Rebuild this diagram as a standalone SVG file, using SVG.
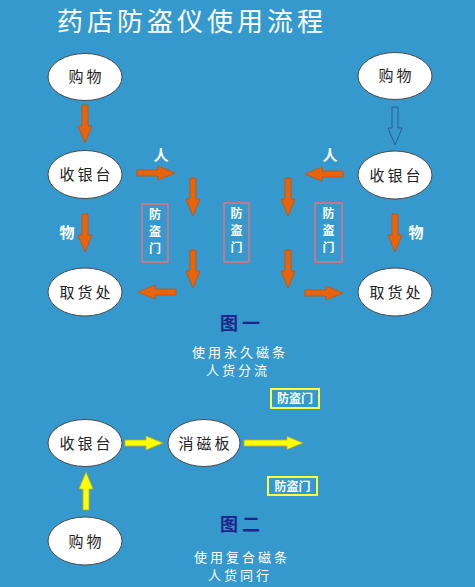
<svg xmlns="http://www.w3.org/2000/svg" xmlns:xlink="http://www.w3.org/1999/xlink" width="475" height="587" viewBox="0 0 475 587">
<style>
.bg{fill:#3599cd}
.node ellipse{fill:#ffffff;stroke:#4a4a4a;stroke-width:1}
.node text{font-family:"Noto Sans CJK SC","Liberation Sans",sans-serif;font-size:15px;fill:#222;text-anchor:middle;letter-spacing:3px}
.org{fill:#e8640c;stroke:#c4520a;stroke-width:0.8}
.hol{fill:none;stroke:#2a5c94;stroke-width:1}
.yel{fill:#ffff00;stroke:#b8b020;stroke-width:0.8}
.lbl{font-family:"Noto Sans CJK SC",sans-serif;font-size:15px;font-weight:bold;fill:#fff;text-anchor:middle}
.door rect{fill:none;stroke:#e8707a;stroke-width:1.5}
.door text{font-family:"Noto Sans CJK SC",sans-serif;font-size:12px;font-weight:bold;fill:#fff;text-anchor:middle}
.ydoor rect{fill:none;stroke:#ffff40;stroke-width:2}
.ydoor text{font-family:"Noto Sans CJK SC",sans-serif;font-size:12px;font-weight:bold;fill:#fff;text-anchor:middle}
.fig{font-family:"Noto Sans CJK SC",sans-serif;font-size:18px;font-weight:bold;fill:#1e2488;text-anchor:middle;letter-spacing:4px}
.cap{font-family:"Noto Sans CJK SC",sans-serif;font-size:13px;fill:#fff;text-anchor:middle;letter-spacing:3px}
.title{font-family:"Noto Sans CJK SC",sans-serif;font-size:26px;fill:#fff;letter-spacing:4px}
</style>
<defs>
<path id="a38" d="M-3,0H3V21H7L0,38L-7,21H-3Z"/>
</defs>
<rect class="bg" x="0" y="0" width="475" height="587"/>
<text class="title" x="57" y="31">药店防盗仪使用流程</text>

<g id="n-buy-l" class="node"><ellipse cx="85" cy="77" rx="37" ry="23.5"/><text x="86.5" y="82">购物</text></g>
<g id="n-cash-l" class="node"><ellipse cx="85" cy="174.5" rx="37" ry="24"/><text x="86.5" y="180">收银台</text></g>
<g id="n-pick-l" class="node"><ellipse cx="85" cy="292" rx="37" ry="24"/><text x="86.5" y="297.5">取货处</text></g>
<g id="n-buy-r" class="node"><ellipse cx="395" cy="76" rx="37" ry="23.5"/><text x="396.5" y="81">购物</text></g>
<g id="n-cash-r" class="node"><ellipse cx="395" cy="175" rx="37" ry="24"/><text x="396.5" y="180.5">收银台</text></g>
<g id="n-pick-r" class="node"><ellipse cx="395" cy="292" rx="37" ry="24"/><text x="396.5" y="297.5">取货处</text></g>
<g id="n-cash-b" class="node"><ellipse cx="85" cy="443" rx="37" ry="23.5"/><text x="86.5" y="448.5">收银台</text></g>
<g id="n-demag" class="node"><ellipse cx="204" cy="443" rx="36" ry="23.5"/><text x="205.5" y="448.5">消磁板</text></g>
<g id="n-buy-b" class="node"><ellipse cx="85" cy="541" rx="37" ry="24"/><text x="86.5" y="546.5">购物</text></g>

<g id="door-l" class="door"><rect x="142" y="204" width="26" height="58"/><text x="155" y="219">防</text><text x="155" y="236">盗</text><text x="155" y="253">门</text></g>
<g id="door-m" class="door"><rect x="224" y="203" width="25" height="59"/><text x="236.5" y="218">防</text><text x="236.5" y="235">盗</text><text x="236.5" y="252">门</text></g>
<g id="door-r" class="door"><rect x="315" y="203" width="27" height="59"/><text x="328.5" y="218">防</text><text x="328.5" y="235">盗</text><text x="328.5" y="252">门</text></g>
<g id="door-y1" class="ydoor"><rect x="271" y="389" width="48" height="19"/><text x="295" y="403">防盗门</text></g>
<g id="door-y2" class="ydoor"><rect x="268" y="477" width="49" height="18"/><text x="292.5" y="490.5">防盗门</text></g>

<g id="connectors">
<use xlink:href="#a38" class="org" transform="translate(85,105)"/>
<use xlink:href="#a38" class="org" transform="translate(85,214)"/>
<use xlink:href="#a38" class="org" transform="translate(137,173) rotate(-90)"/>
<use xlink:href="#a38" class="org" transform="translate(193,178)"/>
<use xlink:href="#a38" class="org" transform="translate(193,250)"/>
<use xlink:href="#a38" class="org" transform="translate(176,292) rotate(90)"/>
<use xlink:href="#a38" class="hol" transform="translate(395,107)"/>
<use xlink:href="#a38" class="org" transform="translate(395,214)"/>
<use xlink:href="#a38" class="org" transform="translate(343,174) rotate(90)"/>
<use xlink:href="#a38" class="org" transform="translate(288,178)"/>
<use xlink:href="#a38" class="org" transform="translate(288,250)"/>
<use xlink:href="#a38" class="org" transform="translate(305,293) rotate(-90)"/>
<use xlink:href="#a38" class="yel" transform="translate(125,443) rotate(-90)"/>
<use xlink:href="#a38" class="yel" transform="translate(86,510) rotate(180)"/>
<path class="yel" d="M244,440H287V436.5L303,443L287,449.5V446H244Z"/>
</g>

<text class="lbl" x="161" y="161">人</text>
<text class="lbl" x="330" y="161">人</text>
<text class="lbl" x="67" y="238">物</text>
<text class="lbl" x="416" y="238">物</text>

<text class="fig" x="242" y="330">图一</text>
<text class="cap" x="240" y="357">使用永久磁条</text>
<text class="cap" x="238" y="375">人货分流</text>
<text class="fig" x="242" y="531">图二</text>
<text class="cap" x="242" y="562">使用复合磁条</text>
<text class="cap" x="240" y="580">人货同行</text>
</svg>
